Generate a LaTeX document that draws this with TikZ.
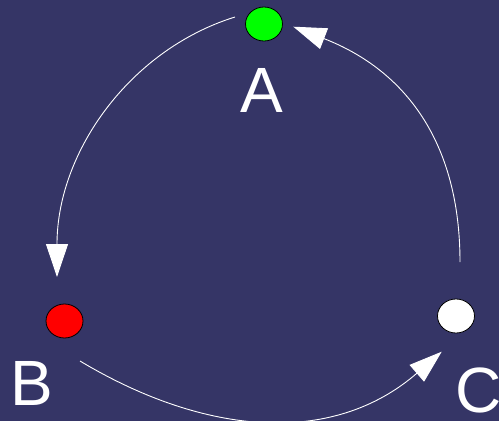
\documentclass[tikz,border=0pt]{standalone}
\usepackage{fontspec}
\setmainfont{Liberation Sans}
\usepackage{xcolor}
\usepackage{tikz}
\usetikzlibrary{arrows.meta,shapes.geometric}

\definecolor{bgnavy}{RGB}{53,53,102}
\definecolor{dotgreen}{RGB}{0,255,0}
\definecolor{dotred}{RGB}{255,0,0}

\begin{document}
\begin{tikzpicture}[x=1pt,y=-1pt,
    dot/.style={ellipse,draw=black,line width=0.8pt,minimum width=37pt,minimum height=34pt,inner sep=0pt},
    letter/.style={text=white,inner sep=0pt,anchor=base,font=\fontsize{64}{64}\selectfont},
    flow/.style={white,line width=0.9pt,-{Triangle[length=33pt,width=22pt]}}]
    % Background
    \fill[bgnavy] (0,0) rectangle (499,421);
    \useasboundingbox (0,0) rectangle (499,421);
    % Markers
    \node[dot,fill=dotgreen] (A) at (264,24) {};
    \node[dot,fill=dotred] (B) at (64.5,321) {};
    \node[dot,fill=white] (C) at (456,316) {};
    % Labels
    \node[letter] (labA) at (262,112) {A};
    \node[letter] (labB) at (31.5,405) {B};
    \node[letter] (labC) at (479,412) {C};
    % Arrows
    \draw[flow] ([shift={(-29,-7)}]A.center) .. controls +(-105,32.6) and +(0,-125) .. ([shift={(-7.5,-44)}]B.center);
    \draw[flow] ([shift={(15.5,40)}]B.center) .. controls +(124.3,74.5) and +(-109.5,95) .. ([shift={(-14.3,35.7)}]C.center);
    \draw[flow] ([shift={(4,-54)}]C.center) .. controls +(0,-120) and +(111.8,43.4) .. ([shift={(29.3,2.7)}]A.center);
\end{tikzpicture}
\end{document}
